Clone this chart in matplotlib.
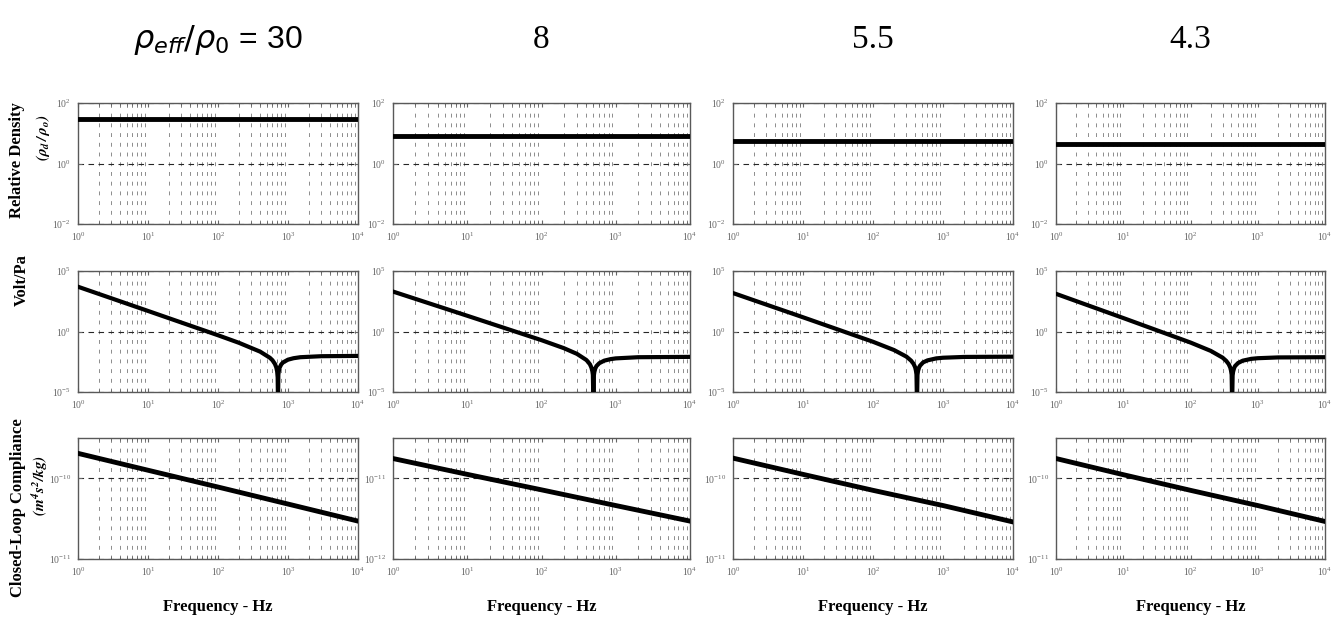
import matplotlib.pyplot as plt
from matplotlib.ticker import LogLocator, NullLocator, NullFormatter, LogFormatterMathtext

plt.rcParams['font.family'] = ['Liberation Serif', 'DejaVu Serif']
plt.rcParams['mathtext.fontset'] = 'stix'

# column headers (effective density ratio)
col_titles = [r'$\rho_{eff}/\rho_0$ = 30', '8', '5.5', '4.3']

# row 1: relative density (flat over frequency)
density_freq = [1, 1e4]
density_ratio = [30, 8, 5.5, 4.3]

# row 2: Volt/Pa
volt_freq = [
    [1, 10, 100, 200, 400, 550, 600, 650, 680, 700, 712, 720, 728, 745, 760, 800, 850,
     1000, 1200, 1500, 3000, 10000],
    [1, 10, 100, 200, 300, 400, 420, 450, 470, 485, 492, 500, 508, 515, 530, 550, 600,
     700, 850, 1000, 2000, 10000],
    [1, 10, 100, 200, 300, 350, 380, 400, 410, 418, 425, 432, 440, 455, 470, 520, 600,
     800, 1000, 2000, 10000],
    [1, 10, 100, 200, 300, 340, 370, 390, 400, 409, 416, 423, 430, 445, 460, 510, 600,
     800, 1000, 2000, 10000],
]
volt_vals = [
    [5000, 50, 0.49, 0.115, 0.0216, 0.0068, 0.0042, 0.0021, 0.0011, 0.0005, 0.00016, 1e-6,
     0.00027, 0.0007, 0.00104, 0.0019, 0.0028, 0.0047, 0.0062, 0.0075, 0.0091, 0.0096],
    [2000, 20, 0.192, 0.042, 0.0142, 0.0045, 0.0033, 0.0019, 0.00105, 0.0005, 0.00026, 1e-6,
     0.00025, 0.00046, 0.00088, 0.0014, 0.0024, 0.0039, 0.0052, 0.006, 0.0075, 0.008],
    [1500, 15, 0.1417, 0.0292, 0.0084, 0.0039, 0.0021, 0.0011, 0.0006, 0.00028, 1e-6,
     0.00026, 0.00055, 0.00105, 0.0015, 0.0028, 0.0041, 0.006, 0.0068, 0.0079, 0.0083],
    [1300, 13, 0.1225, 0.025, 0.0069, 0.0037, 0.002, 0.00105, 0.0006, 0.00027, 1e-6,
     0.00023, 0.00047, 0.00094, 0.0014, 0.0025, 0.0039, 0.0055, 0.0062, 0.0072, 0.0075],
]

# row 3: closed-loop compliance
comp_freq = [1, 10, 100, 1000, 10000]
comp_vals = [
    [2.04e-10, 1.26e-10, 7.8e-11, 4.8e-11, 2.95e-11],
    [1.76e-11, 1.12e-11, 7.2e-12, 4.6e-12, 2.95e-12],
    [1.78e-10, 1.12e-10, 7.1e-11, 4.6e-11, 2.88e-11],
    [1.76e-10, 1.11e-10, 7.1e-11, 4.6e-11, 2.92e-11],
]
comp_decade = [-11, -12, -11, -11]

W, H = 1339, 635
fig = plt.figure(figsize=(W / 100, H / 100), dpi=100)

lefts = [78, 393, 733, 1056]
rights = [358, 690, 1013, 1325]
tops = [103, 271, 438]
bottoms = [224, 392, 559]


def style_axes(ax, yticks):
    ax.set_xscale('log')
    ax.set_yscale('log')
    ax.set_xlim(1, 1e4)
    ax.set_xticks([1, 10, 100, 1000, 10000])
    ax.xaxis.set_minor_locator(LogLocator(base=10, subs=range(2, 10), numticks=20))
    ax.xaxis.set_minor_formatter(NullFormatter())
    ax.set_yticks(yticks)
    ax.yaxis.set_minor_locator(NullLocator())
    fmt = LogFormatterMathtext()
    ax.xaxis.set_major_formatter(fmt)
    ax.yaxis.set_major_formatter(fmt)
    ax.xaxis.grid(True, which='minor', linestyle=(0, (4, 6)), color='0.55', lw=0.7)
    ax.xaxis.grid(False, which='major')
    ax.yaxis.grid(True, which='major', linestyle=(0, (5, 4)), color='0.15', lw=0.8)
    ax.tick_params(which='both', direction='in', top=True, right=True,
                   labelsize=7, labelcolor='0.4', color='0.4')
    ax.tick_params(which='major', length=3, pad=5)
    ax.tick_params(which='minor', length=2)
    for s in ax.spines.values():
        s.set_color('0.35')
        s.set_linewidth(1)


for c in range(4):
    axes = []
    for r in range(3):
        l, rr, t, b = lefts[c], rights[c], tops[r], bottoms[r]
        ax = fig.add_axes([l / W, 1 - b / H, (rr - l) / W, (b - t) / H])
        axes.append(ax)

    ax = axes[0]
    ax.plot(density_freq, [density_ratio[c]] * 2, color='black', lw=3.5, zorder=3)
    ax.set_ylim(1e-2, 1e2)
    style_axes(ax, [1e-2, 1, 1e2])

    ax = axes[1]
    ax.plot(volt_freq[c], volt_vals[c], color='black', lw=3, zorder=3, solid_joinstyle='round')
    ax.set_ylim(1e-5, 1e5)
    style_axes(ax, [1e-5, 1, 1e5])

    ax = axes[2]
    lo = comp_decade[c]
    ax.plot(comp_freq, comp_vals[c], color='black', lw=3.5, zorder=3)
    ax.set_ylim(10.0 ** lo, 10.0 ** (lo + 1.5))
    style_axes(ax, [10.0 ** lo, 10.0 ** (lo + 1)])

    xc = (lefts[c] + rights[c]) / 2 / W
    if c == 0:
        fig.text(xc, 1 - 40 / H, col_titles[c], ha='center', va='center', fontsize=23,
                 family='Liberation Sans', math_fontfamily='dejavusans')
    else:
        fig.text(xc, 1 - 40 / H, col_titles[c], ha='center', va='center', fontsize=24)
    fig.text(xc, 1 - 607 / H, 'Frequency - Hz', ha='center', va='center',
             fontsize=12, fontweight='bold')

# row labels
fig.text(17 / W, 1 - 160 / H, 'Relative Density', rotation=90, ha='center', va='center',
         fontsize=12, fontweight='bold')
fig.text(43 / W, 1 - 138 / H, r'$\mathbfit{(\rho_d\,/\,\rho_o)}$', rotation=90,
         ha='center', va='center', fontsize=11)
fig.text(22 / W, 1 - 280 / H, 'Volt/Pa', rotation=90, ha='center', va='center',
         fontsize=12, fontweight='bold')
fig.text(18 / W, 1 - 508 / H, 'Closed-Loop Compliance', rotation=90, ha='center',
         va='center', fontsize=12, fontweight='bold')
fig.text(40 / W, 1 - 485 / H, r'$\mathbfit{(m^4s^2/kg)}$', rotation=90,
         ha='center', va='center', fontsize=11)

fig.savefig('out.png', dpi=100)
